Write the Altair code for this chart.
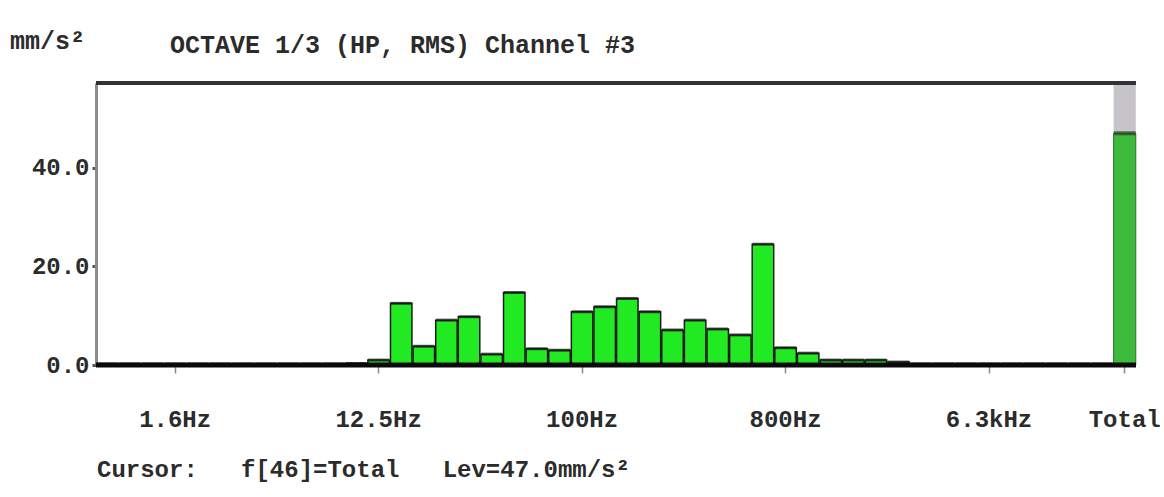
import altair as alt
import pandas as pd

# 1/3-octave band centre frequencies
bands = [
    "0.8Hz", "1Hz", "1.25Hz", "1.6Hz", "2Hz", "2.5Hz", "3.15Hz", "4Hz", "5Hz",
    "6.3Hz", "8Hz", "10Hz", "12.5Hz", "16Hz", "20Hz", "25Hz", "31.5Hz", "40Hz",
    "50Hz", "63Hz", "80Hz", "100Hz", "125Hz", "160Hz", "200Hz", "250Hz", "315Hz",
    "400Hz", "500Hz", "630Hz", "800Hz", "1kHz", "1.25kHz", "1.6kHz", "2kHz",
    "2.5kHz", "3.15kHz", "4kHz", "5kHz", "6.3kHz", "8kHz", "10kHz", "12.5kHz",
    "16kHz", "20kHz",
]
# RMS level per band, mm/s²
levels = [
    0.2, 0.2, 0.2, 0.2, 0.2, 0.2, 0.2, 0.2, 0.2,
    0.2, 0.2, 0.3, 1.0, 12.5, 3.8, 9.1, 9.8, 2.2,
    14.7, 3.3, 3.0, 10.8, 11.8, 13.5, 10.8, 7.1, 9.1,
    7.3, 6.1, 24.5, 3.5, 2.4, 1.0, 1.0, 1.0,
    0.6, 0.2, 0.2, 0.2, 0.2, 0.2, 0.2, 0.2,
    0.2, 0.2,
]
total_label = "Total"
total_level = 47.0
total_hold = 57.0

tick_labels = ["1.6Hz", "12.5Hz", "100Hz", "800Hz", "6.3kHz", "Total"]
y_ticks = [0, 20, 40]

W, H = 1040, 282
FONT = "Liberation Mono"
INK = "#2b2b2b"
NB = "\u00a0"

order = bands + [total_label]
band_df = pd.DataFrame({"band": bands, "level": levels})
total_df = pd.DataFrame({"band": [total_label], "level": [total_level], "hold": [total_hold]})
one = pd.DataFrame({"k": [0]})

x_enc = alt.X(
    "band:N",
    sort=order,
    scale=alt.Scale(domain=order, paddingInner=0, paddingOuter=0),
    axis=alt.Axis(
        values=tick_labels, title=None, labelAngle=0, domain=False,
        ticks=True, tickSize=8, tickWidth=1.5, tickColor="#8a8a8a",
        labelFont=FONT, labelFontSize=24, labelFontWeight="bold",
        labelColor=INK, labelPadding=34,
    ),
)
y_enc = alt.Y(
    "level:Q",
    scale=alt.Scale(domain=[0, 57.2], nice=False, zero=True),
    axis=alt.Axis(
        values=y_ticks, format=".1f", title=None, grid=False,
        domain=True, domainColor="#8c8c8c", domainWidth=3,
        ticks=True, tickSize=4, tickWidth=3, tickColor="#555555",
        labelFont=FONT, labelFontSize=24, labelFontWeight="bold",
        labelColor=INK, labelPadding=3,
    ),
)

bars = alt.Chart(band_df).mark_bar(
    color="#22ea22", stroke="#1a1a1a", strokeWidth=1.5,
    width=alt.RelativeBandSize(0.95),
).encode(x=x_enc, y=y_enc)

caps = alt.Chart(band_df).mark_tick(
    color="#1a1a1a", thickness=3, size=21,
).encode(x=alt.X("band:N", sort=order), y="level:Q")

total_hold_bar = alt.Chart(total_df).mark_bar(
    color="#c6c4c8", width=alt.RelativeBandSize(0.98),
).encode(x=alt.X("band:N", sort=order), y="level:Q", y2="hold:Q")

total_bar = alt.Chart(total_df).mark_bar(
    color="#3dbb3d", stroke="#2f6f2f", strokeWidth=1,
    width=alt.RelativeBandSize(0.98),
).encode(x=alt.X("band:N", sort=order), y="level:Q")

total_cap = alt.Chart(total_df).mark_tick(
    color="#1f3f1f", thickness=4, size=22,
).encode(x=alt.X("band:N", sort=order), y="level:Q")

top_frame = alt.Chart(one).mark_rule(color="#333333", strokeWidth=4).encode(
    x=alt.value(0), x2=alt.value(W), y=alt.value(0)
)
baseline = alt.Chart(one).mark_rule(color="#0a0a0a", strokeWidth=5).encode(
    x=alt.value(0), x2=alt.value(W), y=alt.value(H)
)

def label(text, px, py, size=25):
    return alt.Chart(one).mark_text(
        text=text, font=FONT, fontSize=size, fontWeight="bold", color=INK,
        align="left", baseline="middle",
    ).encode(x=alt.value(px), y=alt.value(py))

unit = label("mm/s²", -86, -42)
title = label("OCTAVE 1/3 (HP, RMS) Channel #3", 74, -38)
cursor = label(f"Cursor:{NB*3}f[46]=Total{NB*3}Lev=47.0mm/s²", 1, 387, size=24)

chart = alt.layer(
    bars, caps, total_hold_bar, total_bar, total_cap,
    top_frame, baseline, unit, title, cursor,
).properties(
    width=W, height=H,
    autosize=alt.AutoSizeParams(type="none"),
    padding={"left": 96, "top": 83, "right": 28, "bottom": 132},
    background="white",
).configure_view(strokeWidth=0)

chart.save("out.html", embed_options={"renderer": "svg", "actions": False})
